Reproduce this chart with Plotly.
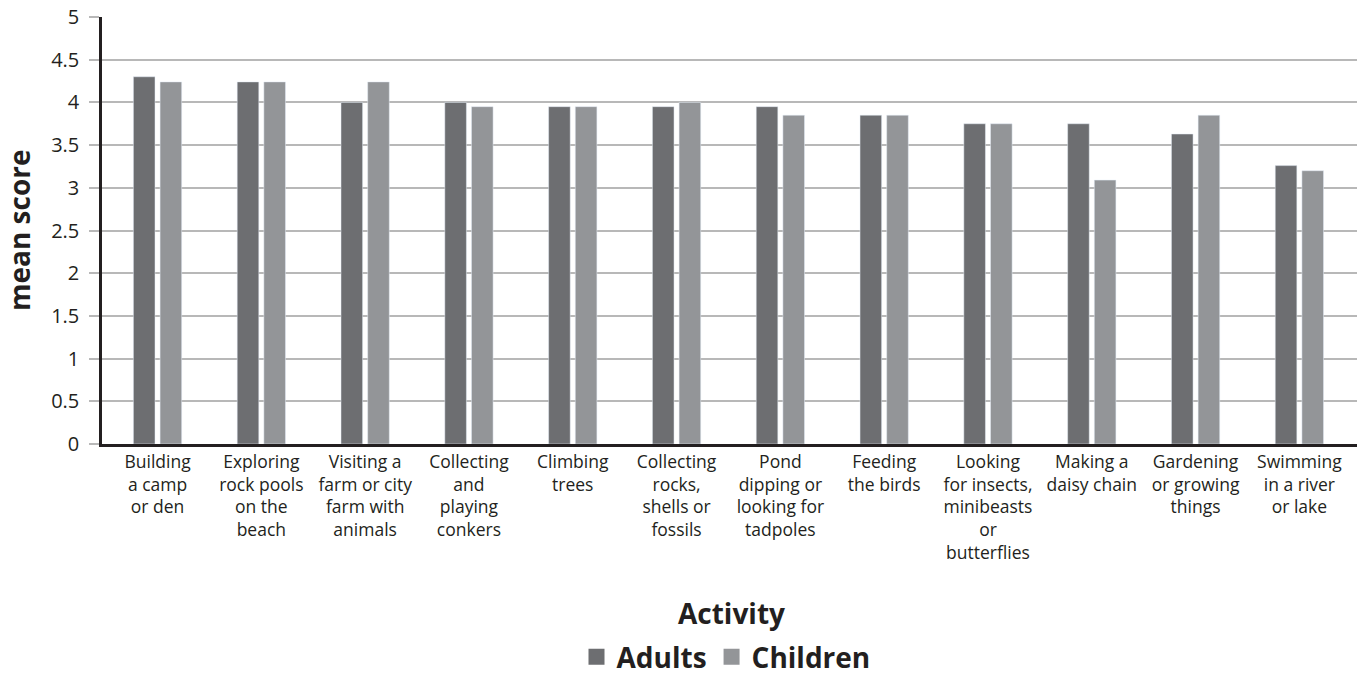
import plotly.graph_objects as go

categories = [
    "Building<br>a camp<br>or den",
    "Exploring<br>rock pools<br>on the<br>beach",
    "Visiting a<br>farm or city<br>farm with<br>animals",
    "Collecting<br>and<br>playing<br>conkers",
    "Climbing<br>trees",
    "Collecting<br>rocks,<br>shells or<br>fossils",
    "Pond<br>dipping or<br>looking for<br>tadpoles",
    "Feeding<br>the birds",
    "Looking<br>for insects,<br>minibeasts<br>or<br>butterflies",
    "Making a<br>daisy chain",
    "Gardening<br>or growing<br>things",
    "Swimming<br>in a river<br>or lake",
]
adults = [4.30, 4.24, 4.00, 4.00, 3.95, 3.95, 3.95, 3.85, 3.75, 3.75, 3.63, 3.26]
children = [4.24, 4.24, 4.24, 3.95, 3.95, 4.00, 3.85, 3.85, 3.75, 3.09, 3.85, 3.20]
y_ticks = [0, 0.5, 1, 1.5, 2, 2.5, 3, 3.5, 4, 4.5, 5]
series_names = ["Adults", "Children"]
series_colors = ["#6d6e71", "#939598"]

FONT = "Open Sans"
TXT = "#231f20"
W, H = 1369, 675
L, R, T, B = 102, 12, 17, 231
PW, PH = W - L - R, H - T - B

fig = go.Figure()
for name, vals, col in zip(series_names, [adults, children], series_colors):
    fig.add_trace(go.Bar(name=name, x=categories, y=vals, marker_color=col,
                         showlegend=False, legendgroup=name))
# legend entries with larger square swatches
for name, col in zip(series_names, series_colors):
    fig.add_trace(go.Scatter(name=f"<b>{name}</b>", x=[None], y=[None], mode="markers",
                             marker=dict(symbol="square", size=16, color=col),
                             legendgroup=name, showlegend=True, hoverinfo="skip"))

fig.update_layout(
    width=W, height=H,
    margin=dict(l=L, r=R, t=T, b=B, autoexpand=False),
    paper_bgcolor="white", plot_bgcolor="white",
    barmode="group", bargap=0.486, bargroupgap=0.19,
    font=dict(family=FONT, color=TXT),
    showlegend=True,
    legend=dict(orientation="h", x=(726 - L) / PW, xanchor="center",
                y=(444 - 657) / PH, yanchor="middle",
                font=dict(family=FONT, size=28, color=TXT),
                traceorder="normal", itemsizing="trace", itemwidth=30),
    annotations=[
        dict(text="<b>Activity</b>", x=(731 - L) / PW, xref="paper", y=(444 - 613) / PH, yref="paper",
             xanchor="center", yanchor="middle", showarrow=False,
             font=dict(size=28, family=FONT, color=TXT)),
        dict(text="<b>mean score</b>", x=(19 - L) / PW, xref="paper", y=(444 - 230) / PH, yref="paper",
             xanchor="center", yanchor="middle", textangle=-90, showarrow=False,
             font=dict(size=28, family=FONT, color=TXT)),
    ],
)
fig.update_xaxes(
    tickfont=dict(size=17.5, family=FONT, color=TXT),
    showline=True, linecolor=TXT, linewidth=2.5,
    ticks="", showgrid=False, automargin=False,
    range=[-0.535, 11.555],
)
fig.update_yaxes(
    range=[0, 5], tickvals=y_ticks, ticktext=[f"{v:g}" for v in y_ticks],
    tickfont=dict(size=20, family=FONT, color=TXT),
    showline=True, linecolor=TXT, linewidth=2.5,
    showgrid=True, gridcolor="#b8b8b8", gridwidth=1.8,
    ticks="outside", ticklen=10, tickcolor="#b8b8b8", tickwidth=1.8,
    ticklabelstandoff=6,
    zeroline=False, automargin=False,
)

fig.write_html("out.html")
